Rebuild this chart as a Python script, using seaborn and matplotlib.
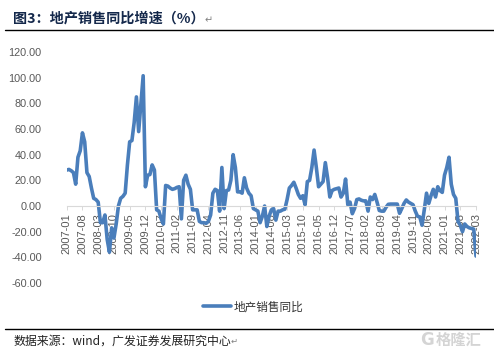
import numpy as np
import pandas as pd
import seaborn as sns
import matplotlib
matplotlib.use("Agg")
import matplotlib.pyplot as plt
from matplotlib.lines import Line2D

# monthly values, 2007-01 to 2022-03
months = pd.date_range("2007-01-01", "2022-03-01", freq="MS").strftime("%Y-%m").tolist()
values = [
    28, 28.5, 27.5, 26, 17, 38, 43,
    57, 50, 26, 23, 14, 6, 5,
    3, -13, -13, -7, -26, -36, -17,
    -25, -14, 0, 6, 7.5, 10, 32,
    50, 51, 65, 85, 58, 80, 101.5,
    15, 24, 24.5, 32, 28, -3, -4,
    -10, -14, 16, 15.5, 14, 13, 13.5,
    14.5, 15, -10, 20, 24, 17, 13,
    -3, -3, -3, -12, -13, -13, -13.5,
    -12, -7, 10, 13, 12, -4, 30,
    -2, 12, 12.5, 20, 40, 30, 11,
    11, 10, 22, 14, 10, 8, -2,
    -3, -4, -13, -8, 0, -16, -8,
    -3, -2, -11, -4, -4, -3, -2.5,
    5, 14, 16, 18.5, 14, 9, 6,
    8, 1, 19, 20, 30, 43.6, 30,
    15, 17, 19, 33.8, 22, 7, 12,
    13, 13.5, 14, 7, 10, 21, 1,
    3, -6, -2, 5, 5.5, 4.5, 4,
    4, -4, 7, 5, 9, 3, -3.5,
    -4, -4, -1, 1.3, 1.5, 1.5, 1.5,
    1.5, -5.7, -2, 2, 4.7, 3, 2,
    1, -4, -8, -8.5, -15, -3, 10,
    2, 8, 13, 7, 15, 12, 10.6,
    24, 30, 38, 17, 9, 6, -12,
    -15, -20, -14, -16, -17, -17.5, -18,
    -39,
]
y_ticks = [-60, -40, -20, 0, 20, 40, 60, 80, 100, 120]

series_name = "地产销售同比"
title_text = "图3：地产销售同比增速（%）"
source_text = "数据来源：wind，广发证券发展研究中心"
watermark_text = "格隆汇"

df = pd.DataFrame({"month": months, "value": values})
df["pos"] = np.arange(len(df))

W, H = 494, 354
cjk = ["Noto Sans CJK SC", "DejaVu Sans"]

sns.set_theme(style="white")
plt.rcParams["font.family"] = ["Liberation Sans", "Noto Sans CJK SC", "DejaVu Sans"]

fig = plt.figure(figsize=(W / 100, H / 100), dpi=100)
ax = fig.add_axes([66.7 / W, 1 - 283 / H, (476 - 66.7) / W, (283 - 52) / H])

sns.lineplot(data=df, x="pos", y="value", color="#4A7EBB", linewidth=2.6, ax=ax,
             label=series_name, solid_joinstyle="round", solid_capstyle="round")

ax.set_xlim(0, len(df) - 1)
ax.set_ylim(-60, 120)
ax.set_xlabel("")
ax.set_ylabel("")

ax.set_xticks(df["pos"][::7])
ax.set_xticklabels(df["month"][::7])
ax.set_yticks(y_ticks)
ax.set_yticklabels([f"{v:.2f}" for v in y_ticks])

# tick_params resets the label rotation, so it all goes in here
ax.tick_params(axis="x", bottom=True, length=3, width=0.7, color="#D9D9D9", pad=2,
               labelrotation=90, labelsize=8, labelcolor="#595959")
ax.tick_params(axis="y", left=False, pad=12, labelsize=7.8, labelcolor="#595959")
ax.patch.set_alpha(0)

for side in ["top", "left", "right"]:
    ax.spines[side].set_visible(False)
ax.spines["bottom"].set_position(("data", 0))
ax.spines["bottom"].set_color("#D9D9D9")
ax.spines["bottom"].set_linewidth(0.8)

leg = ax.legend(loc="center", bbox_to_anchor=(253 / W, 1 - 307 / H),
                bbox_transform=fig.transFigure, frameon=False, handlelength=2.4,
                handletextpad=0.2, prop={"family": cjk, "size": 8.4})
for t in leg.get_texts():
    t.set_color("#333333")


# header and footer, positions in pixels from the top left
def put(x, y, s, **kw):
    fig.text(x / W, 1 - y / H, s, va="center", **kw)


put(13, 19, title_text, family=cjk, fontsize=10.2, fontweight="bold", color="#14284B")
put(205, 20, "↵", family=["DejaVu Sans"], fontsize=7, color="#808080")
put(13, 341, source_text, family=cjk, fontsize=8.6, color="#222222")
put(231, 341, "↵", family=["DejaVu Sans"], fontsize=6, color="#808080")
put(420, 340, "G", family=["DejaVu Sans"], fontsize=12, fontweight="bold", color="#D4D4D4")
put(436, 340, watermark_text, family=cjk, fontsize=11, fontweight="bold", color="#D4D4D4")

fig.add_artist(Line2D([5 / W, 1], [1 - 30 / H] * 2, color="black", linewidth=1))
fig.add_artist(Line2D([5 / W, 1], [1 - 329 / H] * 2, color="black", linewidth=1))

fig.savefig("out.png", dpi=100)
